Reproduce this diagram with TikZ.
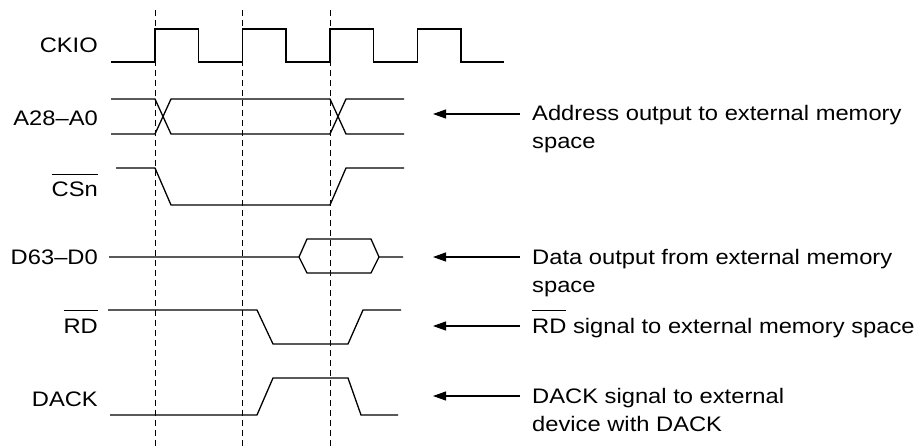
\documentclass[tikz,border=0pt]{standalone}
\usepackage{fontspec}
\setmainfont[FakeStretch=1.13]{Liberation Sans}
\usepackage{tikz}
\usetikzlibrary{arrows.meta, calc}
\newcommand{\sigfont}{\fontsize{21}{28}\selectfont}
% active-low signal name
\newcommand{\lowsig}[1]{\begingroup\setbox0\hbox{#1}\rlap{\rule[1.05em]{\wd0}{0.9pt}}\box0\endgroup}

\begin{document}
\begin{tikzpicture}[x=1pt, y=-1pt,
    wave/.style={line width=1.3pt, line join=miter},
    clockmark/.style={line width=1pt, dash pattern=on 6pt off 4pt},
    pointer/.style={-{Triangle[length=13pt,width=9pt]}, line width=1.2pt},
    siglabel/.style={anchor=base east, inner sep=0pt, font=\sigfont},
    note/.style={anchor=base west, align=left, inner sep=0pt, font=\sigfont}]
  \useasboundingbox (0,0) rectangle (920,447);

  % clock edge markers
  \foreach \x in {155,242,330}
    \draw[clockmark] (\x,10) -- (\x,447);

  % signal names
  \node[siglabel] (ckio) at (98,52) {CKIO};
  \node[siglabel] (addr) at (98,125.5) {A28--A0};
  \node[siglabel] (csn) at (98,196.5) {\lowsig{CSn}};
  \node[siglabel] (data) at (98,264.5) {D63--D0};
  \node[siglabel] (rd) at (98,333) {\lowsig{RD}};
  \node[siglabel] (dack) at (98,406.5) {DACK};

  % CKIO
  \draw[wave] (111,62)
    \foreach \x in {155,242.5,330,417.5} { -- (\x,62) -- (\x,29) -- (\x+43.5,29) -- (\x+43.5,62) }
    -- (504,62);

  % A28-A0
  \draw[wave] (111,99) -- (155,99) -- (171,134) -- (330,134) -- (346,99) -- (404,99);
  \draw[wave] (111,134) -- (155,134) -- (171,99) -- (330,99) -- (346,134) -- (404,134);

  % CSn
  \draw[wave] (116,168) -- (155,168) -- (171,205) -- (330,205) -- (346,168) -- (404,168);

  % D63-D0
  \draw[wave] (109,257) -- (299,257) -- (307,239) -- (371,239) -- (379,257) -- (403,257);
  \draw[wave] (299,257) -- (307,273) -- (371,273) -- (379,257);

  % RD
  \draw[wave] (108,310) -- (257,310) -- (273,344) -- (348,344) -- (363,310) -- (401,310);

  % DACK
  \draw[wave] (110,415) -- (257,415) -- (273,378) -- (348,378) -- (361,415) -- (398,415);

  % notes (base = last line)
  \node[note] (addrnote) at (532,148) {Address output to external memory\\space};
  \node[note] (datanote) at (532,292) {Data output from external memory\\space};
  \node[note] (rdnote) at (532,333) {\lowsig{RD} signal to external memory space};
  \node[note] (dacknote) at (532,431) {DACK signal to external\\device with DACK};

  \coordinate (addrtip) at (433,114);
  \coordinate (datatip) at (433,257);
  \coordinate (rdtip) at (433,326);
  \coordinate (dacktip) at (433,396);
  \draw[pointer] ([xshift=-12pt]addrnote.base west |- addrtip) -- (addrtip);
  \draw[pointer] ([xshift=-12pt]datanote.base west |- datatip) -- (datatip);
  \draw[pointer] ([xshift=-12pt]rdnote.base west |- rdtip) -- (rdtip);
  \draw[pointer] ([xshift=-12pt]dacknote.base west |- dacktip) -- (dacktip);
\end{tikzpicture}
\end{document}
